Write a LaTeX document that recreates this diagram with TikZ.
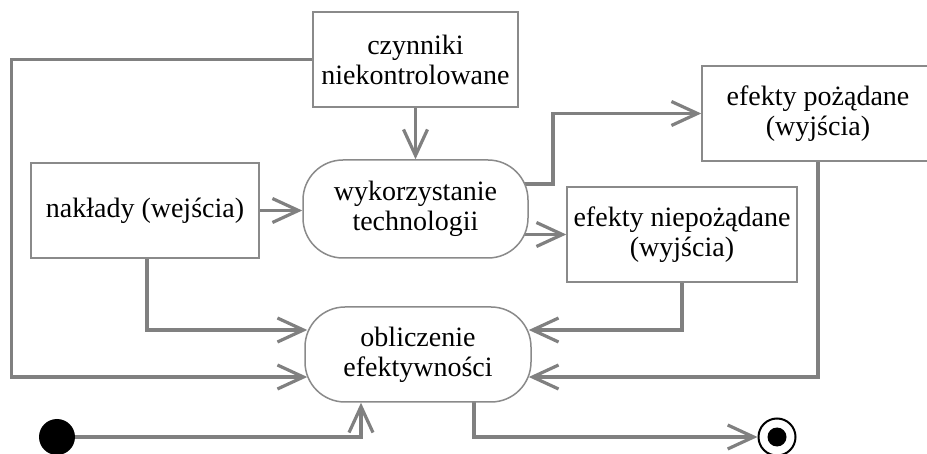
\documentclass[tikz,border=0pt]{standalone}
\usepackage{fontspec}
\setmainfont{Liberation Serif}
\usetikzlibrary{arrows.meta,calc}
\pgfdeclarelayer{bg}
\pgfsetlayers{bg,main}
\definecolor{linegray}{HTML}{808080}
\definecolor{boxgray}{HTML}{8A8A8A}

\begin{document}
\begin{tikzpicture}[x=1pt,y=-1pt,
  label text/.style={font=\fontsize{28}{30}\selectfont, align=center, text=black},
  box/.style={label text, draw=boxgray, line width=1.5pt, fill=white,
    minimum height=95pt, inner sep=0pt},
  activity/.style={box, rounded corners=40pt},
  conn/.style={draw=linegray, line width=3.2pt,
    -{Straight Barb[length=26pt,width=24pt]}},
]
\useasboundingbox (0,0) rectangle (927,454);

% boxes and activities
\node[box, minimum width=205pt] (czyn) at (415.5,59.5) {czynniki\\niekontrolowane};
\node[box, minimum width=228pt] (nak) at (145,210.5) {nakłady (wejścia)};
\node[activity, minimum width=225pt, minimum height=98pt] (wyk) at (415.5,209) {wykorzystanie\\technologii};
\node[box, minimum width=232pt] (poz) at (818,113.5) {efekty pożądane\\(wyjścia)};
\node[box, minimum width=230pt] (niep) at (682,234.5) {efekty niepożądane\\(wyjścia)};
\node[activity, minimum width=226pt] (obl) at (418,354.5) {obliczenie\\efektywności};

% initial and final states
\node[circle, fill=black, minimum size=36pt, inner sep=0pt] (start) at (57,437) {};
\node[circle, draw=black, line width=2pt, fill=white, minimum size=37pt, inner sep=0pt] (end) at (777,437) {};
\node[circle, fill=black, minimum size=19pt, inner sep=0pt] (endc) at (end.center) {};

\begin{pgfonlayer}{bg}
  \draw[conn] (czyn.south) -- (wyk.north);
  \draw[conn] (nak.east) -- (nak.east -| wyk.west);
  \draw[conn] ($(wyk.center)+(0,-25)$) -- ($(wyk.center)+(137.5,-25)$) |- (poz.west);
  \draw[conn] (wyk.center |- niep.west) -- (niep.west);
  \draw[conn] ($(nak.south)+(2,0)$) |- ($(obl.west)+(3,-24.5)$);
  \draw[conn] (niep.south) |- ($(obl.east)+(-3,-24.5)$);
  \draw[conn] (czyn.west) -- ++(-301,0) |- ($(obl.west)+(3,22.5)$);
  \draw[conn] (poz.south) |- ($(obl.east)+(-3,22.5)$);
  \draw[conn] (start.center) -| ($(obl.south)+(-57,0)$);
  \draw[conn] ($(obl.center)+(56,0)$) |- (end.west);
\end{pgfonlayer}
\end{tikzpicture}
\end{document}
